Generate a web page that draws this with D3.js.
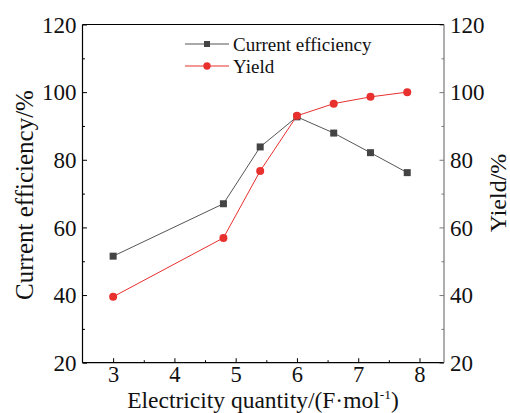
<!DOCTYPE html>
<html>
<head>
<meta charset="utf-8">
<script src="https://cdn.jsdelivr.net/npm/d3@7"></script>
<style>
  html, body { margin: 0; padding: 0; background: #fff; }
  svg { display: block; font-family: "Liberation Serif", "Times New Roman", serif; }
</style>
</head>
<body>
<svg id="chart" width="510" height="413"></svg>
<script>
// Electricity quantity (F/mol) against current efficiency and yield
const charge = [3, 4.8, 5.4, 6, 6.6, 7.2, 7.8];
const currentEfficiency = [51.5, 67.0, 83.8, 92.7, 87.9, 82.1, 76.2];
const yieldPct = [39.5, 56.9, 76.7, 93.0, 96.6, 98.6, 100.0];
const xTicks = [3, 4, 5, 6, 7, 8];
const xMinorTicks = [3.5, 4.5, 5.5, 6.5, 7.5];
const yTicks = [20, 40, 60, 80, 100, 120];
const yMinorTicks = [30, 50, 70, 90, 110];
const seriesNames = ["Current efficiency", "Yield"];

const margin = { left: 82.5, top: 24.5, right: 444, bottom: 362.7 };
const svg = d3.select("#chart");

const x = d3.scaleLinear().domain([2.5, 8.4]).range([margin.left, margin.right]);
const yL = d3.scaleLinear().domain([20, 120]).range([margin.bottom, margin.top]);
const yR = d3.scaleLinear().domain([20, 120]).range([margin.bottom, margin.top]);

const tickFont = 23;

function styleAxis(g, color) {
  g.select(".domain").remove();
  g.selectAll(".tick line").attr("stroke", color).attr("stroke-width", 1);
  g.selectAll(".tick text")
    .attr("fill", "#111")
    .style("font-size", tickFont + "px")
    .style("font-family", "Liberation Serif, serif");
}

// bottom axis, ticks pointing in
const gx = svg.append("g").attr("transform", `translate(0,${margin.bottom})`)
  .call(d3.axisBottom(x).tickValues(xTicks).tickSize(-4.5).tickPadding(3).tickFormat(d3.format("d")));
styleAxis(gx, "#000");
gx.selectAll(".tick text").attr("dy", "0.71em").style("font-size", "22.5px");
svg.append("g").attr("transform", `translate(0,${margin.bottom})`)
  .call(d3.axisBottom(x).tickValues(xMinorTicks).tickSize(-2.5).tickFormat(""))
  .call(g => { g.select(".domain").remove(); g.selectAll(".tick line").attr("stroke", "#000"); });

// left axis
const gl = svg.append("g").attr("transform", `translate(${margin.left},0)`)
  .call(d3.axisLeft(yL).tickValues(yTicks).tickSize(-4.5).tickPadding(6).tickFormat(d3.format("d")));
styleAxis(gl, "#000");
gl.selectAll(".tick text").attr("dy", "0.34em");
svg.append("g").attr("transform", `translate(${margin.left},0)`)
  .call(d3.axisLeft(yL).tickValues(yMinorTicks).tickSize(-2.5).tickFormat(""))
  .call(g => { g.select(".domain").remove(); g.selectAll(".tick line").attr("stroke", "#000"); });

// right axis
const gr = svg.append("g").attr("transform", `translate(${margin.right},0)`)
  .call(d3.axisRight(yR).tickValues(yTicks).tickSize(-4.5).tickPadding(6).tickFormat(d3.format("d")));
styleAxis(gr, "#777");
gr.selectAll(".tick text").attr("dy", "0.34em");
svg.append("g").attr("transform", `translate(${margin.right},0)`)
  .call(d3.axisRight(yR).tickValues(yMinorTicks).tickSize(-2.5).tickFormat(""))
  .call(g => { g.select(".domain").remove(); g.selectAll(".tick line").attr("stroke", "#777"); });

// frame
svg.append("line").attr("x1", margin.left).attr("x2", margin.right)
  .attr("y1", margin.top).attr("y2", margin.top).attr("stroke", "#000").attr("stroke-width", 1.2);
svg.append("line").attr("x1", margin.left).attr("x2", margin.right)
  .attr("y1", margin.bottom).attr("y2", margin.bottom).attr("stroke", "#000").attr("stroke-width", 1.2);
svg.append("line").attr("x1", margin.left).attr("x2", margin.left)
  .attr("y1", margin.top).attr("y2", margin.bottom).attr("stroke", "#000").attr("stroke-width", 1.2);
svg.append("line").attr("x1", margin.right).attr("x2", margin.right)
  .attr("y1", margin.top).attr("y2", margin.bottom).attr("stroke", "#777").attr("stroke-width", 1.2);

// series
const grayColor = "#444";
const redColor = "#e8302e";

const ceData = charge.map((c, i) => [c, currentEfficiency[i]]);
const yiData = charge.map((c, i) => [c, yieldPct[i]]);

const lineL = d3.line().x(d => x(d[0])).y(d => yL(d[1]));
const lineR = d3.line().x(d => x(d[0])).y(d => yR(d[1]));

svg.append("path").datum(ceData).attr("d", lineL)
  .attr("fill", "none").attr("stroke", "#555").attr("stroke-width", 1);
svg.selectAll(".ce").data(ceData).enter().append("rect")
  .attr("x", d => x(d[0]) - 3.5).attr("y", d => yL(d[1]) - 3.5)
  .attr("width", 7).attr("height", 7).attr("fill", grayColor);

svg.append("path").datum(yiData).attr("d", lineR)
  .attr("fill", "none").attr("stroke", redColor).attr("stroke-width", 1);
svg.selectAll(".yi").data(yiData).enter().append("circle")
  .attr("cx", d => x(d[0])).attr("cy", d => yR(d[1])).attr("r", 4)
  .attr("fill", redColor);

// legend
const legend = svg.append("g");
const legRows = [
  { name: seriesNames[0], color: "#555", mark: "rect", fill: grayColor, y: 44 },
  { name: seriesNames[1], color: redColor, mark: "circle", fill: redColor, y: 66 }
];
legRows.forEach(r => {
  legend.append("line").attr("x1", 185).attr("x2", 229).attr("y1", r.y).attr("y2", r.y)
    .attr("stroke", r.color).attr("stroke-width", 1);
  if (r.mark === "rect") {
    legend.append("rect").attr("x", 207 - 3).attr("y", r.y - 3).attr("width", 6).attr("height", 6).attr("fill", r.fill);
  } else {
    legend.append("circle").attr("cx", 207).attr("cy", r.y).attr("r", 3.7).attr("fill", r.fill);
  }
  legend.append("text").attr("x", 233).attr("y", r.y).attr("dy", "0.35em")
    .style("font-size", "19px").attr("fill", "#111").text(r.name);
});

// axis titles
svg.append("text")
  .attr("transform", `translate(33,195) rotate(-90)`)
  .attr("text-anchor", "middle")
  .style("font-size", "25px").attr("fill", "#111")
  .text("Current efficiency/%");

svg.append("text")
  .attr("transform", `translate(506,193) rotate(-90)`)
  .attr("text-anchor", "middle")
  .style("font-size", "24px").attr("fill", "#111")
  .text("Yield/%");

const xt = svg.append("text")
  .attr("x", 263).attr("y", 407.5)
  .attr("text-anchor", "middle")
  .style("font-size", "23.5px").attr("fill", "#111");
xt.append("tspan").text("Electricity quantity/(F\u00B7mol");
xt.append("tspan").attr("dy", -9).style("font-size", "13.5px").text("-1");
xt.append("tspan").attr("dy", 9).text(")");
</script>
</body>
</html>
